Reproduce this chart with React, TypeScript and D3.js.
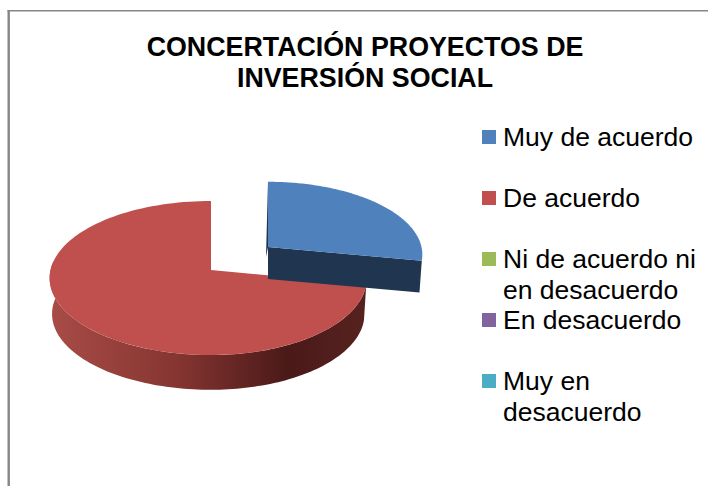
import React from "react";
import * as d3 from "d3";

const categories = ["Muy de acuerdo", "De acuerdo", "Ni de acuerdo ni|en desacuerdo", "En desacuerdo", "Muy en|desacuerdo"];
const values = [28, 72, 0, 0, 0];
const colors = ["#4f81bd", "#c0504d", "#9bbb59", "#8064a2", "#4bacc6"];
const titleLines = ["CONCERTACIÓN PROYECTOS DE", "INVERSIÓN SOCIAL"];
const legendBaselines = [146, 207, 268, 329, 390];

const W = 708, H = 486;
type Proj = { ax: number; ay: number; rl: number; rr: number; ry: number; k: number };
const project = (p: Proj, t: number, scale = 1, dy = 0): [number, number] => {
  const u = Math.sin(t), f = -Math.cos(t);
  const d = 1 - p.k * f;
  const rx = u < 0 ? p.rl : p.rr;
  return [p.ax + (rx * scale * u) / d, p.ay + dy + (p.ry * scale * f) / d];
};
const arcPts = (p: Proj, a: number, b: number, scale = 1, dy = 0) =>
  d3.range(0, 121).map((i) => project(p, a + ((b - a) * i) / 120, scale, dy));

export default function App() {
  const arcs = d3.pie<number>().sort(null)(values);
  const line = d3.line();
  const blue = arcs[0], red = arcs[1];
  const pRed: Proj = { ax: 211, ay: 270, rl: 160.5, rr: 155, ry: 76.2, k: 0.104 };
  const pBlue: Proj = { ax: 268, ay: 247, rl: 155, rr: 153.5, ry: 72, k: 0.104 };

  const redTop = [[pRed.ax, pRed.ay] as [number, number], ...arcPts(pRed, red.startAngle, red.endAngle)];
  const wallEnd = (Math.PI * 3) / 2 + 0.12;
  const redWall = [
    ...arcPts(pRed, red.startAngle, wallEnd),
    ...arcPts(pRed, red.startAngle, wallEnd, 0.985, 36).reverse(),
  ];
  const blueTop = [[pBlue.ax, pBlue.ay] as [number, number], ...arcPts(pBlue, blue.startAngle, blue.endAngle)];
  const blueEnd = project(pBlue, blue.endAngle);
  const blueEndLow = project(pBlue, blue.endAngle, 0.985, 32);
  const blueCut: [number, number][] = [[pBlue.ax, pBlue.ay], blueEnd, blueEndLow, [pBlue.ax, pBlue.ay + 32]];
  const blueSpine: [number, number][] = [[pBlue.ax, pBlue.ay], project(pBlue, blue.startAngle), [pBlue.ax - 2, pBlue.ay + 10]];

  return (
    <svg width={W} height={H} style={{ position: "absolute", left: 0, top: 0, background: "#fff" }}>
      <defs>
        <linearGradient id="wall" gradientUnits="userSpaceOnUse" x1={50} x2={366} y1={0} y2={0}>
          <stop offset="0" stopColor="#a84c47" />
          <stop offset="0.4" stopColor="#863531" />
          <stop offset="0.75" stopColor="#4a1a18" />
          <stop offset="1" stopColor="#562220" />
        </linearGradient>
      </defs>
      <line x1={8.7} x2={8.7} y1={10} y2={H} stroke="#868686" strokeWidth={2.4} />
      <line x1={7.5} x2={W} y1={10.7} y2={10.7} stroke="#868686" strokeWidth={1.5} />
      <g fontFamily="Liberation Sans" fontWeight="bold" fontSize={26.8} textAnchor="middle" fill="#000">
        {titleLines.map((t, i) => (
          <text key={t} x={365} y={55.5 + i * 31.5}>{t}</text>
        ))}
      </g>
      <path d={line(redWall)! + "Z"} fill="url(#wall)" />
      <path d={line(redTop)! + "Z"} fill={colors[1]} />
      <path d={line(blueSpine)! + "Z"} fill="#1f3550" />
      <path d={line(blueCut)! + "Z"} fill="#1f3550" />
      <path d={line(blueTop)! + "Z"} fill={colors[0]} />
      {categories.map((c, i) => (
        <g key={c}>
          <rect x={482} y={legendBaselines[i] - 16} width={14} height={14} fill={colors[i]} />
          <text fontFamily="Liberation Sans" fontSize={26.5} fill="#000">
            {c.split("|").map((s, j) => (
              <tspan key={s} x={503} y={legendBaselines[i] + j * 31}>{s}</tspan>
            ))}
          </text>
        </g>
      ))}
    </svg>
  );
}
